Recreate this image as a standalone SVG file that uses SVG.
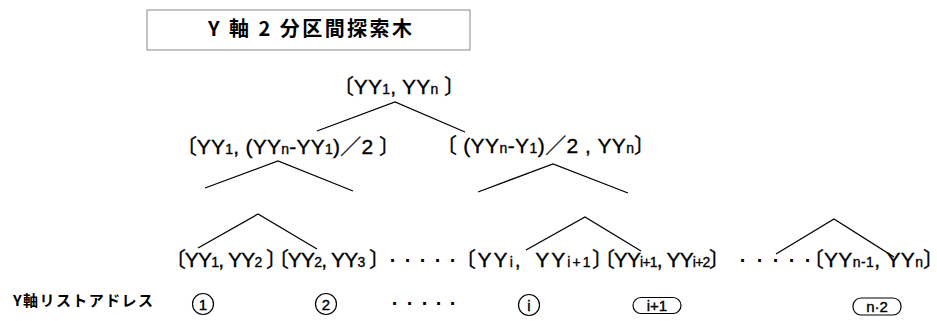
<svg xmlns="http://www.w3.org/2000/svg" width="937" height="321" viewBox="0 0 937 321">
<style>
.lbl{font-family:"Liberation Sans","Noto Sans CJK JP",sans-serif;font-size:21px;fill:#000;stroke:#000;stroke-width:0.35;font-feature-settings:"palt" 1}
.sub{font-size:14px}
.ttl{font-family:"Noto Sans CJK JP",sans-serif;font-size:20px;font-weight:700;fill:#000}
.yl{font-family:"Noto Sans CJK JP",sans-serif;font-size:15px;font-weight:700;fill:#000}
.num{font-family:"Liberation Sans",sans-serif;font-size:15px;fill:#000;stroke:#000;stroke-width:0.4;text-anchor:middle}
.dot{font-family:"Liberation Sans",sans-serif;font-size:20px;font-weight:700;fill:#000;text-anchor:middle}
.edge{fill:none;stroke:#000;stroke-width:1.3}
.mark{fill:none;stroke:#000;stroke-width:1.2}
</style>
<rect width="937" height="321" fill="#fff"/>
<g id="title">
<rect x="147" y="10" width="323" height="40" fill="none" stroke="#888" stroke-width="1"/>
<text class="ttl" x="208" y="36" textLength="204" lengthAdjust="spacing">Y 軸 2 分区間探索木</text>
</g>
<g id="connectors">
<polyline class="edge" points="317,131 395,102 465,132"/>
<polyline class="edge" points="205,188 278,161 353,191"/>
<polyline class="edge" points="478,192 553,164 628,193"/>
<polyline class="edge" points="198,248 258,214 317,249"/>
<polyline class="edge" points="526,250 585,217 641,251"/>
<polyline class="edge" points="776,254 834,219 894,257"/>
</g>
<g id="node-root">
<text class="lbl" x="343" y="94" textLength="112" lengthAdjust="spacing">〔YY<tspan class="sub">1</tspan>, YY<tspan class="sub">n</tspan> 〕</text>
</g>
<g id="node-l1-left">
<text class="lbl" x="186" y="154" textLength="204" lengthAdjust="spacing">〔YY<tspan class="sub">1</tspan>, (YY<tspan class="sub">n</tspan>-YY<tspan class="sub">1</tspan>)／2 〕</text>
</g>
<g id="node-l1-right">
<text class="lbl" x="446" y="153" textLength="199" lengthAdjust="spacing">〔 (YY<tspan class="sub">n</tspan>-Y<tspan class="sub">1</tspan>)／2 , YY<tspan class="sub">n</tspan>〕</text>
</g>
<g id="leaf-1">
<text class="lbl" x="175" y="267" textLength="102" lengthAdjust="spacing">〔YY<tspan class="sub">1</tspan>, YY<tspan class="sub">2</tspan> 〕</text>
<circle class="mark" cx="203" cy="304" r="10.5"/>
<text class="num" x="203" y="309.5">1</text>
</g>
<g id="leaf-2">
<text class="lbl" x="278" y="267" textLength="102" lengthAdjust="spacing">〔YY<tspan class="sub">2</tspan>, YY<tspan class="sub">3</tspan> 〕</text>
<circle class="mark" cx="326" cy="304" r="10.5"/>
<text class="num" x="326" y="309.5">2</text>
</g>
<g id="leaf-i">
<text class="lbl" x="465" y="267" textLength="138" lengthAdjust="spacing">〔YY<tspan class="sub">i</tspan>, <tspan dx="5">YY</tspan><tspan class="sub">i+1</tspan>〕</text>
<circle class="mark" cx="529" cy="305" r="10.5"/>
<text class="num" x="529" y="310.5">i</text>
</g>
<g id="leaf-i1">
<text class="lbl" x="604" y="267" textLength="116" lengthAdjust="spacing">〔YY<tspan class="sub">i+1</tspan>, YY<tspan class="sub">i+2</tspan>〕</text>
<rect class="mark" x="633" y="297.5" width="48" height="16" rx="8"/>
<text class="num" x="657" y="310.5">i+1</text>
</g>
<g id="leaf-n">
<text class="lbl" x="813" y="267" textLength="121" lengthAdjust="spacing">〔YY<tspan class="sub">n-1</tspan>, YY<tspan class="sub">n</tspan>〕</text>
<rect class="mark" x="853" y="298" width="48" height="17" rx="8"/>
<text class="num" x="877" y="311.5">n·2</text>
</g>
<g id="ellipses">
<text class="dot" x="393 408 423 438 453" y="267">·····</text>
<text class="dot" x="743 760 776 792 808" y="267">·····</text>
<text class="dot" x="395 410 425 439 453" y="310">·····</text>
</g>
<g id="address-label">
<text class="yl" x="13" y="306" textLength="140" lengthAdjust="spacing">Y軸リストアドレス</text>
</g>
</svg>
